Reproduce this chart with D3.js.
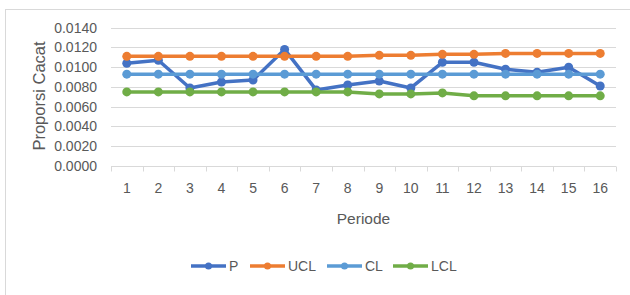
<!DOCTYPE html>
<html>
<head>
<meta charset="utf-8">
<script src="https://cdn.jsdelivr.net/npm/d3@7"></script>
<style>
  body { margin: 0; background: #fff; }
  svg { display: block; font-family: 'Liberation Sans', Arial, sans-serif; }
</style>
</head>
<body>
<div id="chart"></div>
<script>
const periods = ['1', '2', '3', '4', '5', '6', '7', '8', '9', '10', '11', '12', '13', '14', '15', '16'];
const pValues = [0.0104, 0.0107, 0.0079, 0.0085, 0.0087, 0.0118, 0.0077, 0.0082, 0.0086, 0.0079, 0.0105, 0.0105, 0.0098, 0.0095, 0.0100, 0.0081];
const uclValues = [0.0111, 0.0111, 0.0111, 0.0111, 0.0111, 0.0111, 0.0111, 0.0111, 0.0112, 0.0112, 0.0113, 0.0113, 0.0114, 0.0114, 0.0114, 0.0114];
const clValues = [0.0093, 0.0093, 0.0093, 0.0093, 0.0093, 0.0093, 0.0093, 0.0093, 0.0093, 0.0093, 0.0093, 0.0093, 0.0093, 0.0093, 0.0093, 0.0093];
const lclValues = [0.0075, 0.0075, 0.0075, 0.0075, 0.0075, 0.0075, 0.0075, 0.0075, 0.0073, 0.0073, 0.0074, 0.0071, 0.0071, 0.0071, 0.0071, 0.0071];
const yTicks = [0, 0.002, 0.004, 0.006, 0.008, 0.010, 0.012, 0.014];

const series = [
  { name: 'P', values: pValues, color: '#4472C4' },
  { name: 'UCL', values: uclValues, color: '#ED7D31' },
  { name: 'CL', values: clValues, color: '#5B9BD5' },
  { name: 'LCL', values: lclValues, color: '#70AD47' }
];

const width = 630, height = 295;
const margin = { left: 111, right: 14, top: 27.7, bottom: 129 };
const textColor = '#595959';
const gridColor = '#d9d9d9';

const svg = d3.select('#chart').append('svg')
  .attr('width', width)
  .attr('height', height);

// chart border (right and bottom edges fall outside the picture)
svg.append('rect')
  .attr('x', 5.5).attr('y', 9.5)
  .attr('width', width + 20).attr('height', height + 20)
  .attr('fill', 'none')
  .attr('stroke', gridColor);

const x = d3.scaleBand()
  .domain(periods)
  .range([margin.left, width - margin.right]);

const y = d3.scaleLinear()
  .domain([0, 0.014])
  .range([height - margin.bottom, margin.top]);

// gridlines
svg.append('g')
  .selectAll('line')
  .data(yTicks.slice(1))
  .enter()
    .append('line')
    .attr('x1', margin.left)
    .attr('x2', width - margin.right)
    .attr('y1', d => Math.round(y(d)) + 0.5)
    .attr('y2', d => Math.round(y(d)) + 0.5)
    .attr('stroke', gridColor);

// y axis labels
const yAxis = d3.axisLeft(y)
  .tickValues(yTicks)
  .tickSize(0)
  .tickPadding(14)
  .tickFormat(d3.format('.4f'));

const yele = svg.append('g')
  .attr('transform', 'translate(' + margin.left + ',0)')
  .call(yAxis);
yele.select('.domain').remove();
yele.selectAll('text')
  .attr('fill', textColor)
  .style('font-size', '14px');

// x axis: line, ticks at band edges, labels
const xBase = Math.round(y(0)) + 0.5;
svg.append('line')
  .attr('x1', margin.left).attr('x2', width - margin.right)
  .attr('y1', xBase).attr('y2', xBase)
  .attr('stroke', gridColor);

const edges = periods.map(p => x(p)).concat([x.range()[1]]);
svg.append('g')
  .selectAll('line')
  .data(edges)
  .enter()
    .append('line')
    .attr('x1', d => Math.round(d) + 0.5)
    .attr('x2', d => Math.round(d) + 0.5)
    .attr('y1', xBase)
    .attr('y2', xBase + 5)
    .attr('stroke', gridColor);

svg.append('g')
  .selectAll('text')
  .data(periods)
  .enter()
    .append('text')
    .attr('x', d => x(d) + x.bandwidth() / 2)
    .attr('y', 193)
    .attr('text-anchor', 'middle')
    .attr('fill', textColor)
    .style('font-size', '14px')
    .text(d => d);

// axis titles
svg.append('text')
  .attr('x', (margin.left + width - margin.right) / 2)
  .attr('y', 223.5)
  .attr('text-anchor', 'middle')
  .attr('fill', textColor)
  .style('font-size', '15.5px')
  .text('Periode');

svg.append('text')
  .attr('transform', 'translate(45,96) rotate(-90)')
  .attr('text-anchor', 'middle')
  .attr('fill', textColor)
  .style('font-size', '16.5px')
  .text('Proporsi Cacat');

// series
const line = d3.line()
  .x((d, i) => x(periods[i]) + x.bandwidth() / 2)
  .y(d => y(d));

series.forEach(s => {
  const g = svg.append('g');
  g.append('path')
    .datum(s.values)
    .attr('d', line)
    .attr('fill', 'none')
    .attr('stroke', s.color)
    .attr('stroke-width', 3.5)
    .attr('stroke-linejoin', 'round');
  g.selectAll('circle')
    .data(s.values)
    .enter()
      .append('circle')
      .attr('cx', (d, i) => x(periods[i]) + x.bandwidth() / 2)
      .attr('cy', d => y(d))
      .attr('r', 4.5)
      .attr('fill', s.color);
});

// legend
const legendX = [191, 250, 327, 393];
const legend = svg.append('g')
  .selectAll('g')
  .data(series)
  .enter()
    .append('g')
    .attr('transform', (d, i) => 'translate(' + legendX[i] + ',266)');

legend.append('line')
  .attr('x1', 0).attr('x2', 35)
  .attr('stroke', d => d.color)
  .attr('stroke-width', 3.5);
legend.append('circle')
  .attr('cx', 17.5)
  .attr('r', 3.5)
  .attr('fill', d => d.color);
legend.append('text')
  .attr('x', 38)
  .attr('y', 5)
  .attr('fill', textColor)
  .style('font-size', '14px')
  .text(d => d.name);
</script>
</body>
</html>
